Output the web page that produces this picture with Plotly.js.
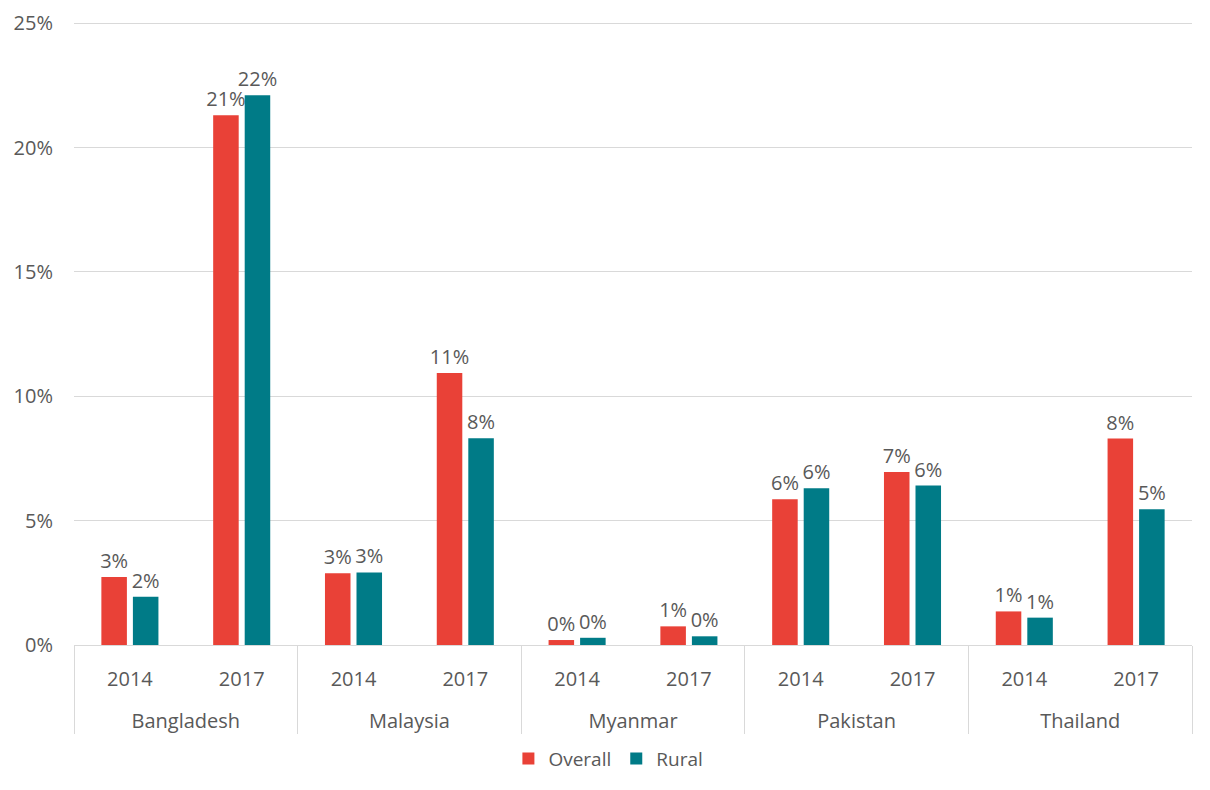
<!DOCTYPE html>
<html>
<head>
<meta charset="utf-8">
<script src="https://cdn.plot.ly/plotly-3.0.1.min.js"></script>
<style>
  html, body { margin: 0; padding: 0; background: #fff; }
  #chart { width: 1210px; height: 790px; outline: 1px solid #d9d9d9; outline-offset: -2px; }
</style>
</head>
<body>
<div id="chart"></div>
<script>
const countries = ["Bangladesh", "Bangladesh", "Malaysia", "Malaysia", "Myanmar", "Myanmar", "Pakistan", "Pakistan", "Thailand", "Thailand"];
const years = ["2014", "2017", "2014", "2017", "2014", "2017", "2014", "2017", "2014", "2017"];
const overall = [2.73, 21.3, 2.88, 10.94, 0.2, 0.75, 5.86, 6.96, 1.35, 8.3];
const rural = [1.94, 22.1, 2.92, 8.31, 0.29, 0.35, 6.3, 6.41, 1.1, 5.46];
const yTicks = [0, 5, 10, 15, 20, 25];
const yTickLabels = ["0%", "5%", "10%", "15%", "20%", "25%"];

const textColor = "#595959";
const lineColor = "#d9d9d9";
const fontFamily = "'Open Sans', 'Liberation Sans', sans-serif";

// category keys (unique) built from the two label arrays
const xKeys = countries.map((c, i) => c + " " + years[i]);

// country groups: centre positions and boundaries in category index units
const groupNames = [];
const groupCentres = [];
const groupBounds = [-0.5];
countries.forEach((c) => {
  if (groupNames[groupNames.length - 1] !== c) groupNames.push(c);
});
groupNames.forEach(g => {
  const idx = countries.map((c, i) => c === g ? i : -1).filter(i => i >= 0);
  groupCentres.push((idx[0] + idx[idx.length - 1]) / 2);
  groupBounds.push(idx[idx.length - 1] + 0.5);
});
const xRange = [-0.5, countries.length - 0.5];

function barTrace(name, vals, color) {
  return {
    type: "bar",
    name: name,
    x: xKeys,
    y: vals,
    marker: { color: color },
    texttemplate: "%{y:.0f}%",
    textposition: "outside",
    constraintext: "none",
    cliponaxis: false,
    textfont: { family: fontFamily, size: 20, color: textColor },
    hoverinfo: "skip"
  };
}

const data = [
  barTrace("Overall", overall, "#E94137"),
  barTrace("Rural", rural, "#007B87"),
  { type: "scatter", x: [], y: [], xaxis: "x2", yaxis: "y", showlegend: false, hoverinfo: "skip" },
  { type: "scatter", x: [], y: [], xaxis: "x3", yaxis: "y", showlegend: false, hoverinfo: "skip" }
];

const layout = {
  width: 1210,
  height: 790,
  margin: { l: 74, r: 18, t: 20, b: 143 },
  paper_bgcolor: "#ffffff",
  plot_bgcolor: "#ffffff",
  font: { family: fontFamily, size: 20, color: textColor },
  barmode: "group",
  bargap: 0.436,
  bargroupgap: 0.19,
  showlegend: true,
  legend: {
    orientation: "h",
    x: 0.478, xanchor: "center",
    y: -0.182, yanchor: "middle",
    font: { family: fontFamily, size: 19, color: textColor },
    traceorder: "normal"
  },
  xaxis: {
    type: "category",
    range: xRange,
    tickvals: xKeys,
    ticktext: years,
    showline: true,
    linecolor: lineColor,
    linewidth: 1,
    showgrid: false,
    zeroline: false,
    ticks: "",
    ticklabelstandoff: 16,
    tickfont: { family: fontFamily, size: 20, color: textColor }
  },
  xaxis2: {
    overlaying: "x",
    anchor: "y",
    side: "bottom",
    type: "linear",
    range: xRange,
    tickmode: "array",
    tickvals: groupCentres,
    ticktext: groupNames,
    showline: false,
    showgrid: false,
    zeroline: false,
    ticks: "",
    ticklabelstandoff: 62,
    tickfont: { family: fontFamily, size: 20, color: textColor }
  },
  xaxis3: {
    overlaying: "x",
    anchor: "y",
    side: "bottom",
    type: "linear",
    range: xRange,
    tickmode: "array",
    tickvals: groupBounds,
    showticklabels: false,
    showline: false,
    showgrid: false,
    zeroline: false,
    ticks: "outside",
    ticklen: 88,
    tickwidth: 1,
    tickcolor: lineColor
  },
  yaxis: {
    range: [0, 25.13],
    tickvals: yTicks,
    ticktext: yTickLabels,
    showgrid: true,
    gridcolor: lineColor,
    gridwidth: 1,
    zeroline: false,
    showline: false,
    ticks: "",
    ticklabelstandoff: 20,
    tickfont: { family: fontFamily, size: 20, color: textColor }
  }
};

Plotly.newPlot("chart", data, layout, { displayModeBar: false, staticPlot: true });
</script>
</body>
</html>
